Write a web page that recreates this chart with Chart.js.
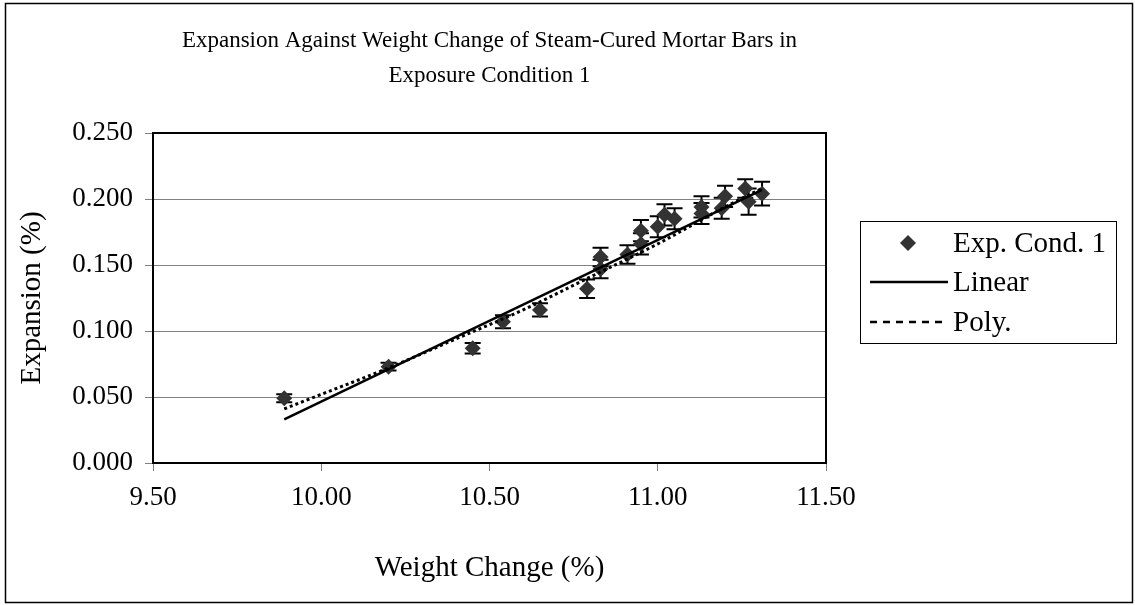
<!DOCTYPE html>
<html lang="en">
<head>
    <meta charset="UTF-8">
    <title>Expansion Against Weight Change</title>
    <style>
        body { margin: 0; padding: 0; background: #ffffff; }
        #wrap { width: 1135px; height: 605px; }
    </style>
</head>
<body>
    <div id="wrap"><canvas id="expChart" width="1135" height="605"></canvas></div>

    <script src="https://cdn.jsdelivr.net/npm/chart.js"></script>
    <script>
        // Measured points (weight change %, expansion %, error bar half-height)
        const weightChange = [9.89, 10.20, 10.45, 10.54, 10.65, 10.79, 10.83, 10.83, 10.91, 10.95, 10.95, 11.00, 11.02, 11.05, 11.13, 11.13, 11.19, 11.20, 11.26, 11.27, 11.31];
        const expansion    = [0.049, 0.073, 0.087, 0.107, 0.116, 0.132, 0.147, 0.156, 0.158, 0.166, 0.176, 0.179, 0.188, 0.185, 0.189, 0.194, 0.193, 0.202, 0.208, 0.198, 0.204];
        const expError     = [0.003, 0.003, 0.004, 0.005, 0.005, 0.007, 0.007, 0.007, 0.007, 0.008, 0.008, 0.008, 0.008, 0.008, 0.008, 0.008, 0.008, 0.008, 0.007, 0.010, 0.009];

        // Trend lines
        const linearX = [9.89, 11.31];
        const linearY = [0.033, 0.207];
        const polyX = [9.89, 10.00, 10.20, 10.40, 10.60, 10.80, 11.00, 11.20, 11.31];
        const polyY = [0.041, 0.052, 0.072, 0.094, 0.116, 0.141, 0.166, 0.194, 0.208];

        const titleLines = ['Expansion Against Weight Change of Steam-Cured Mortar Bars in', 'Exposure Condition 1'];
        const xTitle = 'Weight Change (%)';
        const yTitle = 'Expansion (%)';

        const serif = "'Liberation Serif', 'Times New Roman', serif";
        const markerColor = '#333333';

        const pts = weightChange.map((x, i) => ({ x: x, y: expansion[i] }));
        const linPts = linearX.map((x, i) => ({ x: x, y: linearY[i] }));
        const polyPts = polyX.map((x, i) => ({ x: x, y: polyY[i] }));

        const decorations = {
            id: 'decorations',
            beforeDatasetsDraw(chart) {
                // error bars behind the markers
                const ctx = chart.ctx;
                const xs = chart.scales.x, ys = chart.scales.y;
                ctx.save();
                ctx.strokeStyle = '#000';
                ctx.lineWidth = 2;
                weightChange.forEach((x, i) => {
                    const px = xs.getPixelForValue(x);
                    const top = ys.getPixelForValue(expansion[i] + expError[i]);
                    const bot = ys.getPixelForValue(expansion[i] - expError[i]);
                    ctx.beginPath();
                    ctx.moveTo(px, top); ctx.lineTo(px, bot);
                    ctx.moveTo(px - 8, top); ctx.lineTo(px + 8, top);
                    ctx.moveTo(px - 8, bot); ctx.lineTo(px + 8, bot);
                    ctx.stroke();
                });
                ctx.restore();
            },
            afterDraw(chart) {
                const ctx = chart.ctx;
                const a = chart.chartArea;
                ctx.save();

                // plot frame (top & right)
                ctx.strokeStyle = '#000';
                ctx.lineWidth = 2;
                ctx.beginPath();
                ctx.moveTo(a.left, a.top); ctx.lineTo(a.right, a.top); ctx.lineTo(a.right, a.bottom);
                ctx.stroke();

                // outer border
                ctx.lineWidth = 1.5;
                ctx.strokeRect(5.5, 3.5, 1127, 599);

                // titles
                ctx.fillStyle = '#000';
                ctx.textAlign = 'center';
                ctx.textBaseline = 'middle';
                const cx = (a.left + a.right) / 2;
                ctx.font = '23px ' + serif;
                ctx.fillText(titleLines[0], cx, 41);
                ctx.fillText(titleLines[1], cx, 76);
                ctx.font = '29px ' + serif;
                ctx.fillText(xTitle, cx, 568);
                ctx.save();
                ctx.translate(32, (a.top + a.bottom) / 2);
                ctx.rotate(-Math.PI / 2);
                ctx.fillText(yTitle, 0, 0);
                ctx.restore();

                // legend
                ctx.lineWidth = 1;
                ctx.strokeStyle = '#000';
                ctx.strokeRect(860.5, 221.5, 256, 122);
                ctx.textAlign = 'left';
                ctx.font = '29px ' + serif;
                const rows = [243, 282, 322];
                ctx.fillStyle = markerColor;
                ctx.beginPath();
                ctx.moveTo(908, rows[0] - 8); ctx.lineTo(916, rows[0]); ctx.lineTo(908, rows[0] + 8); ctx.lineTo(900, rows[0]);
                ctx.closePath(); ctx.fill();
                ctx.strokeStyle = '#000';
                ctx.lineWidth = 2.5;
                ctx.beginPath(); ctx.moveTo(870, rows[1]); ctx.lineTo(948, rows[1]); ctx.stroke();
                ctx.setLineDash([7, 6]);
                ctx.beginPath(); ctx.moveTo(870, rows[2]); ctx.lineTo(948, rows[2]); ctx.stroke();
                ctx.setLineDash([]);
                ctx.fillStyle = '#000';
                chart.data.datasets.forEach((ds, i) => ctx.fillText(ds.label, 953, rows[i] + 1));
                ctx.restore();
            }
        };

        new Chart(document.getElementById('expChart').getContext('2d'), {
            type: 'scatter',
            data: {
                datasets: [
                    {
                        label: 'Exp. Cond. 1',
                        data: pts,
                        pointStyle: 'rectRot',
                        pointRadius: 8,
                        backgroundColor: markerColor,
                        borderColor: markerColor,
                        borderWidth: 0,
                        order: 3
                    },
                    {
                        label: 'Linear',
                        type: 'line',
                        data: linPts,
                        borderColor: '#000',
                        borderWidth: 2.5,
                        pointRadius: 0,
                        fill: false,
                        order: 1
                    },
                    {
                        label: 'Poly.',
                        type: 'line',
                        data: polyPts,
                        borderColor: '#000',
                        borderWidth: 3,
                        borderDash: [3, 3],
                        pointRadius: 0,
                        cubicInterpolationMode: 'monotone',
                        fill: false,
                        order: 2
                    }
                ]
            },
            options: {
                responsive: false,
                animation: false,
                layout: { padding: { left: 0, right: 309, top: 133, bottom: 0 } },
                plugins: { legend: { display: false }, tooltip: { enabled: false } },
                scales: {
                    x: {
                        type: 'linear',
                        min: 9.5,
                        max: 11.5,
                        afterFit: s => { s.height = 142; },
                        ticks: {
                            stepSize: 0.5,
                            callback: v => v.toFixed(2),
                            color: '#000',
                            font: { family: serif, size: 27 },
                            padding: 11,
                            maxRotation: 0
                        },
                        grid: { drawOnChartArea: false, drawTicks: true, tickLength: 8, color: '#808080' },
                        border: { display: true, color: '#000', width: 2 }
                    },
                    y: {
                        min: 0,
                        max: 0.25,
                        afterFit: s => { s.width = 153; },
                        ticks: {
                            stepSize: 0.05,
                            callback: v => v.toFixed(3),
                            color: '#000',
                            font: { family: serif, size: 27 },
                            padding: 12
                        },
                        grid: { color: '#808080', lineWidth: 1, tickLength: 8 },
                        border: { display: true, color: '#000', width: 2 }
                    }
                }
            },
            plugins: [decorations]
        });
    </script>
</body>
</html>
